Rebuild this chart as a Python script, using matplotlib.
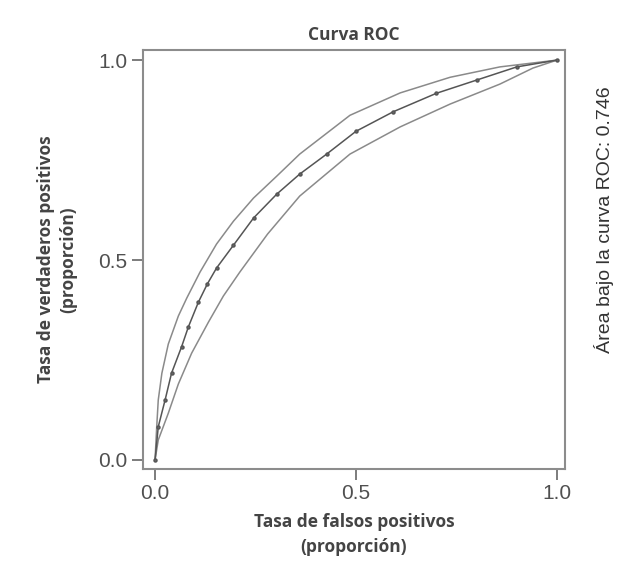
import matplotlib
matplotlib.use("Agg")
import matplotlib.pyplot as plt

# ROC curve (false positive rate, true positive rate)
fpr_mid = [0.0, 0.008, 0.025, 0.041, 0.066, 0.083, 0.108, 0.13, 0.153, 0.195, 0.245,
           0.303, 0.36, 0.427, 0.50, 0.593, 0.70, 0.80, 0.90, 1.0]
tpr_mid = [0.0, 0.083, 0.15, 0.217, 0.283, 0.333, 0.395, 0.44, 0.48, 0.537, 0.605,
           0.665, 0.715, 0.765, 0.822, 0.871, 0.917, 0.95, 0.983, 1.0]

# upper confidence band
fpr_up = [0.0, 0.004, 0.008, 0.017, 0.033, 0.058, 0.079, 0.112, 0.153, 0.195,
          0.245, 0.303, 0.36, 0.485, 0.61, 0.734, 0.858, 1.0]
tpr_up = [0.0, 0.08, 0.15, 0.217, 0.29, 0.36, 0.405, 0.47, 0.54, 0.597,
          0.655, 0.71, 0.765, 0.862, 0.918, 0.957, 0.983, 1.0]

# lower confidence band
fpr_lo = [0.0, 0.008, 0.033, 0.058, 0.091, 0.133, 0.17, 0.211, 0.28, 0.36,
          0.485, 0.61, 0.734, 0.858, 0.94, 1.0]
tpr_lo = [0.0, 0.05, 0.117, 0.19, 0.267, 0.345, 0.41, 0.47, 0.565, 0.66,
          0.765, 0.833, 0.89, 0.94, 0.98, 1.0]

auc = 0.746
ticks = [0.0, 0.5, 1.0]
tick_labels = ["0.0", "0.5", "1.0"]

fig = plt.figure(figsize=(6.31, 5.63), dpi=100)
ax = fig.add_axes([0.2266, 0.167, 0.6688, 0.744])

ax.plot(fpr_up, tpr_up, color="#8a8a8a", lw=1.1)
ax.plot(fpr_lo, tpr_lo, color="#8a8a8a", lw=1.1)
ax.plot(fpr_mid, tpr_mid, color="#555555", lw=1.1, marker="o", ms=2.2,
        mfc="#666666", mec="#555555")

ax.set_xlim(-0.03, 1.02)
ax.set_ylim(-0.0225, 1.025)
ax.set_xticks(ticks)
ax.set_xticklabels(tick_labels)
ax.set_yticks(ticks)
ax.set_yticklabels(tick_labels)

for s in ax.spines.values():
    s.set_color("#8c8c8c")
    s.set_linewidth(1.5)
ax.tick_params(direction="out", length=8, width=1.2, color="#666666",
               labelcolor="#505050", labelsize=15, pad=3)
for lab in ax.get_xticklabels() + ax.get_yticklabels():
    lab.set_family(["Liberation Sans", "DejaVu Sans"])

bold = dict(family=["Open Sans", "DejaVu Sans"], fontweight="bold", color="#444444")
ax.set_title("Curva ROC", fontsize=12.5, pad=7, **bold)
ax.set_xlabel("Tasa de falsos positivos\n(proporción)", fontsize=12.5,
              labelpad=7, linespacing=1.5, **bold)
ax.set_ylabel("Tasa de verdaderos positivos\n(proporción)", fontsize=12.5,
              labelpad=15, linespacing=1.3, **bold)

fig.text(0.958, 0.61, f"Área bajo la curva ROC: {auc}", rotation=90,
         ha="center", va="center", fontsize=14, color="#333333",
         family=["Liberation Sans", "DejaVu Sans"])

fig.savefig("out.png", dpi=100)
